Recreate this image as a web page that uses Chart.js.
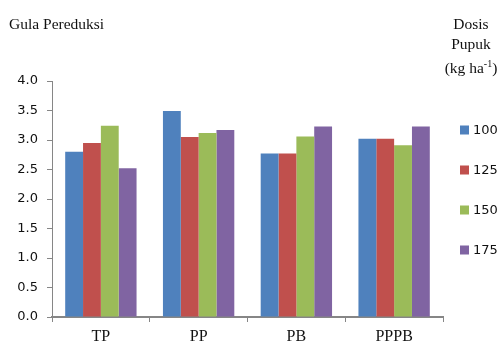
<!DOCTYPE html>
<html>
<head>
<meta charset="utf-8">
<script src="https://cdn.jsdelivr.net/npm/chart.js@4.4.1/dist/chart.umd.min.js"></script>
<style>
  body { margin: 0; background: #fff; }
  #wrap { position: relative; width: 500px; height: 342px; }
  #ytitle { position: absolute; left: 9px; top: 15px; font: 15.5px "Liberation Serif", serif; color: #111; }
  #ltitle { position: absolute; left: 431px; top: 14px; width: 80px; text-align: center;
            font: 15.5px "Liberation Serif", serif; color: #111; line-height: 20px; }
  #ltitle sup { font-size: 10px; }
</style>
</head>
<body>
<div id="wrap">
  <canvas id="gulaChart" width="500" height="342"></canvas>
  <div id="ytitle">Gula Pereduksi</div>
  <div id="ltitle">Dosis<br>Pupuk<br>(kg ha<sup>-1</sup>)</div>
</div>
<script>
// perlakuan dan dosis pupuk
const categories = ["TP", "PP", "PB", "PPPB"];
const doses = ["100", "125", "150", "175"];
const yTicks = [0, 0.5, 1.0, 1.5, 2.0, 2.5, 3.0, 3.5, 4.0];

// nilai gula pereduksi per dosis
const dose100 = [2.80, 3.49, 2.77, 3.02];
const dose125 = [2.95, 3.05, 2.77, 3.02];
const dose150 = [3.24, 3.12, 3.06, 2.91];
const dose175 = [2.52, 3.17, 3.23, 3.23];

const colors = ["#4F81BD", "#C0504D", "#9BBB59", "#8064A2"];
const series = [dose100, dose125, dose150, dose175];
const axisColor = "#868686";

// legend on the right, spaced like the original sheet
const sideLegend = {
    id: "sideLegend",
    afterDraw(chart) {
        const ctx = chart.ctx;
        ctx.save();
        ctx.font = "13px 'DejaVu Sans', sans-serif";
        ctx.textBaseline = "middle";
        chart.data.datasets.forEach((ds, i) => {
            let y = 130 + i * 40;
            ctx.fillStyle = ds.backgroundColor;
            ctx.fillRect(460, y - 4.5, 9, 9);
            ctx.fillStyle = "#111";
            ctx.fillText(ds.label, 473, y + 1);
        });
        ctx.restore();
    }
};

let chart = new Chart(document.getElementById("gulaChart").getContext("2d"), {
    type: "bar",
    data: {
        labels: categories,
        datasets: series.map((vals, i) => ({
            label: doses[i],
            data: vals,
            backgroundColor: colors[i],
            borderWidth: 0,
            categoryPercentage: 0.73,
            barPercentage: 1.0
        }))
    },
    options: {
        responsive: false,
        animation: false,
        layout: { padding: { top: 81, right: 57, left: 0, bottom: 0 } },
        plugins: {
            legend: { display: false },
            tooltip: { enabled: false }
        },
        scales: {
            x: {
                grid: { offset: true, drawOnChartArea: false, drawTicks: true, tickLength: 5, color: axisColor },
                border: { display: true, color: axisColor, width: 2 },
                ticks: { color: "#111", font: { family: "'Liberation Serif', serif", size: 16 }, padding: 5 },
                afterFit(scale) { scale.height = 25; }
            },
            y: {
                min: 0,
                max: 4,
                afterBuildTicks(scale) { scale.ticks = yTicks.map(v => ({ value: v })); },
                grid: { drawOnChartArea: false, drawTicks: true, tickLength: 5, color: axisColor },
                border: { display: true, color: axisColor, width: 1 },
                ticks: {
                    color: "#111",
                    font: { family: "'DejaVu Sans', sans-serif", size: 13 },
                    padding: 9,
                    callback: v => Number(v).toFixed(1)
                },
                afterFit(scale) { scale.width = 52; }
            }
        }
    },
    plugins: [sideLegend]
});
</script>
</body>
</html>
